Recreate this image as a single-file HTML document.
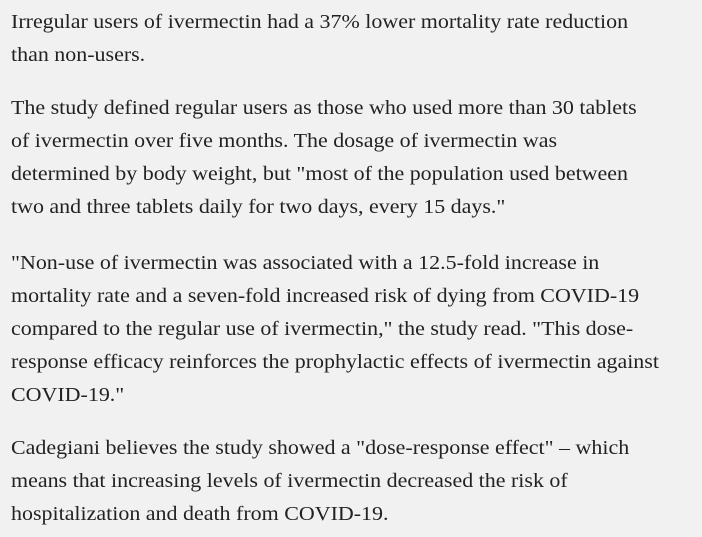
<!DOCTYPE html>
<html><head><meta charset="utf-8"><style>
html,body{margin:0;padding:0;background:#f1f1f1;width:702px;height:537px;overflow:hidden}
body{font-family:"Liberation Serif",serif;font-size:20px;color:#222;}
.p{position:absolute;left:11px;white-space:nowrap;line-height:33px;margin:0;transform:scaleX(1.098);transform-origin:0 0}
.l{display:block}
</style></head><body>
<div>
<p class="p" style="top:6px"><span class="l">Irregular users of ivermectin had a 37% lower mortality rate reduction</span><span class="l">than non-users.</span></p>
<p class="p" style="top:92px"><span class="l">The study defined regular users as those who used more than 30 tablets</span><span class="l">of ivermectin over five months. The dosage of ivermectin was</span><span class="l">determined by body weight, but "most of the population used between</span><span class="l">two and three tablets daily for two days, every 15 days."</span></p>
<p class="p" style="top:247px"><span class="l">"Non-use of ivermectin was associated with a 12.5-fold increase in</span><span class="l">mortality rate and a seven-fold increased risk of dying from COVID-19</span><span class="l">compared to the regular use of ivermectin," the study read. "This dose-</span><span class="l">response efficacy reinforces the prophylactic effects of ivermectin against</span><span class="l">COVID-19."</span></p>
<p class="p" style="top:432px"><span class="l">Cadegiani believes the study showed a "dose-response effect" – which</span><span class="l">means that increasing levels of ivermectin decreased the risk of</span><span class="l">hospitalization and death from COVID-19.</span></p>
</div>
</body></html>
